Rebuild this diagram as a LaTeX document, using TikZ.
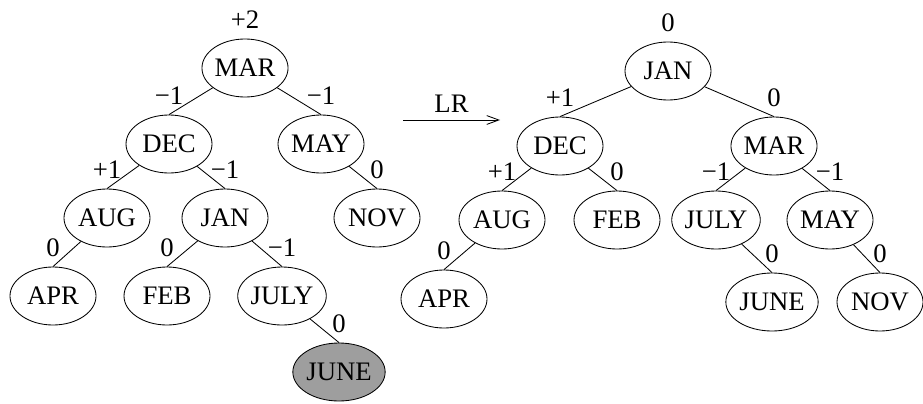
\documentclass[tikz,border=0pt]{standalone}
\usepackage{fontspec}
\setmainfont{Liberation Serif}
\usetikzlibrary{arrows.meta, shapes.geometric, positioning}

\begin{document}
\begin{tikzpicture}[
    key/.style={ellipse, draw=black, line width=0.6pt, minimum width=2.15cm, minimum height=1.45cm, inner sep=0pt, font=\fontsize{19}{22}\selectfont},
    inserted/.style={key, fill=black!38},
    edge/.style={line width=0.6pt},
    label distance=0.24cm,
    every label/.style={inner sep=0pt, font=\fontsize{19}{22}\selectfont}
  ]
    \useasboundingbox (0, 0) rectangle (23.075, -10.075);

    % Left tree: after inserting JUNE
    \node[key, label=above:+2] (mar) at (6.125, -1.7) {MAR};
    \node[key, label=above:−1] (dec) at (4.225, -3.6) {DEC};
    \node[key, label=above:−1] (may) at (8.025, -3.6) {MAY};
    \node[key, label=above:+1] (aug) at (2.675, -5.45) {AUG};
    \node[key, label=above:−1] (jan) at (5.625, -5.45) {JAN};
    \node[key, label=above:0] (nov) at (9.425, -5.45) {NOV};
    \node[key, label=above:0] (apr) at (1.325, -7.4) {APR};
    \node[key, label=above:0] (feb) at (4.175, -7.4) {FEB};
    \node[key, label=above:−1] (july) at (7.05, -7.4) {JULY};
    \node[inserted, label=above:0] (june) at (8.475, -9.3) {JUNE};

    \draw[edge] (mar) -- (dec.north);
    \draw[edge] (mar) -- (may.north);
    \draw[edge] (dec) -- (aug.north);
    \draw[edge] (dec) -- (jan.north);
    \draw[edge] (may) -- (nov.north);
    \draw[edge] (aug) -- (apr.north);
    \draw[edge] (jan) -- (feb.north);
    \draw[edge] (jan) -- (july.north);
    \draw[edge] (july) -- (june.north);

    % Rotation
    \coordinate (lrstart) at (10.075, -3.0);
    \coordinate (lrend) at (12.5, -3.0);
    \draw[edge, -{Straight Barb[length=3mm, width=2.2mm]}] (lrstart) -- (lrend)
        node[midway, above=2pt, font=\fontsize{19}{22}\selectfont] {LR};

    % Right tree: after LR rotation
    \node[key, label=above:0] (jan2) at (16.7, -1.775) {JAN};
    \node[key, label=above:+1] (dec2) at (14.0, -3.65) {DEC};
    \node[key, label=above:0] (mar2) at (19.35, -3.65) {MAR};
    \node[key, label=above:+1] (aug2) at (12.55, -5.5) {AUG};
    \node[key, label=above:0] (feb2) at (15.425, -5.5) {FEB};
    \node[key, label=above:−1] (july2) at (17.9, -5.5) {JULY};
    \node[key, label=above:−1] (may2) at (20.75, -5.5) {MAY};
    \node[key, label=above:0] (apr2) at (11.1, -7.475) {APR};
    \node[key, label=above:0] (june2) at (19.3, -7.55) {JUNE};
    \node[key, label=above:0] (nov2) at (22.0, -7.55) {NOV};

    \draw[edge] (jan2) -- (dec2.north);
    \draw[edge] (jan2) -- (mar2.north);
    \draw[edge] (dec2) -- (aug2.north);
    \draw[edge] (dec2) -- (feb2.north);
    \draw[edge] (mar2) -- (july2.north);
    \draw[edge] (mar2) -- (may2.north);
    \draw[edge] (aug2) -- (apr2.north);
    \draw[edge] (july2) -- (june2.north);
    \draw[edge] (may2) -- (nov2.north);
\end{tikzpicture}
\end{document}
